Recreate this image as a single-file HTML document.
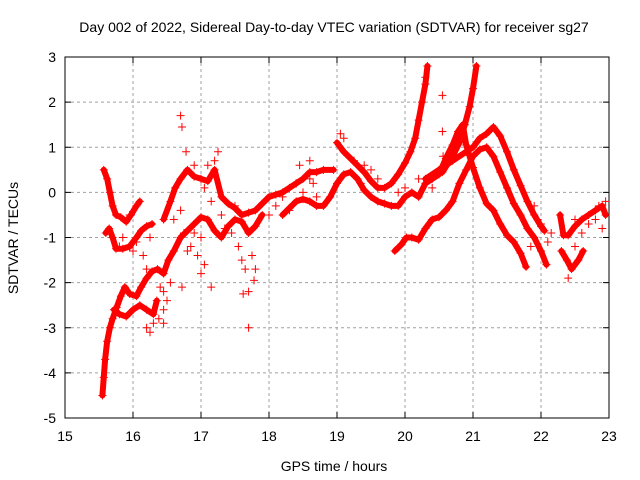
<!DOCTYPE html>
<html><head><meta charset="utf-8"><style>
body{margin:0;background:#fff;}
svg{display:block;font-family:"Liberation Sans",sans-serif;}
</style></head><body>
<svg id="chart" width="640" height="480" viewBox="0 0 640 480" xmlns="http://www.w3.org/2000/svg">
<rect width="640" height="480" fill="#fff"/>
<text x="334" y="32" font-size="14" text-anchor="middle">Day 002 of 2022, Sidereal Day-to-day VTEC variation (SDTVAR) for receiver sg27</text>
<g id="grid"></g>
<g id="axes"></g>
<g id="marks"></g>
<text x="334" y="471" font-size="14" text-anchor="middle">GPS time / hours</text>
<text x="18" y="238" font-size="14" text-anchor="middle" transform="rotate(-90 18 238)">SDTVAR / TECUs</text>
</svg>
<script>
const xTicks=[15,16,17,18,19,20,21,22,23];
const yTicks=[-5,-4,-3,-2,-1,0,1,2,3];
const traceA=[[15.57,0.5],[15.62,0.3],[15.66,0.0],[15.7,-0.3],[15.75,-0.5],[15.82,-0.55],[15.9,-0.65],[15.97,-0.5],[16.05,-0.3],[16.1,-0.2]];
const traceB=[[15.6,-0.9],[15.65,-0.8],[15.7,-1.0],[15.75,-1.25],[15.85,-1.25],[15.95,-1.2],[16.05,-1.0],[16.12,-0.85],[16.2,-0.75],[16.28,-0.7]];
const traceC=[[15.55,-4.5],[15.57,-4.1],[15.59,-3.7],[15.62,-3.3],[15.66,-3.0],[15.7,-2.8],[15.76,-2.55],[15.82,-2.3],[15.88,-2.1],[15.95,-2.25],[16.05,-2.3],[16.12,-2.1],[16.2,-1.9],[16.28,-1.75],[16.36,-1.7],[16.45,-1.8],[16.52,-1.5],[16.6,-1.3],[16.7,-1.0],[16.8,-0.85],[16.9,-0.7],[17.0,-0.55],[17.1,-0.6],[17.2,-0.85],[17.3,-1.0],[17.4,-0.75],[17.5,-0.6],[17.6,-0.65],[17.7,-0.9],[17.8,-0.75],[17.9,-0.5]];
const traceC2=[[15.72,-2.6],[15.8,-2.7],[15.9,-2.75],[16.0,-2.6],[16.1,-2.5],[16.2,-2.6],[16.3,-2.7],[16.35,-2.4]];
const traceD=[[16.45,-0.6],[16.55,-0.2],[16.62,0.1],[16.7,0.3],[16.8,0.5],[16.9,0.35],[17.0,0.3],[17.1,0.25],[17.2,0.5],[17.3,-0.1],[17.4,-0.25],[17.5,-0.35],[17.6,-0.5],[17.7,-0.45],[17.8,-0.4],[17.9,-0.25],[18.0,-0.1],[18.1,-0.05],[18.2,0.0],[18.3,0.1],[18.4,0.2],[18.5,0.3],[18.6,0.45],[18.7,0.45],[18.8,0.5],[18.95,0.5]];
const traceE=[[19.0,1.1],[19.1,0.9],[19.2,0.75],[19.3,0.6],[19.4,0.45],[19.5,0.25],[19.6,0.1],[19.7,0.1],[19.8,0.2],[19.9,0.4],[20.0,0.65],[20.08,0.9],[20.15,1.2],[20.2,1.6],[20.25,2.0],[20.3,2.4],[20.33,2.8]];
const traceF=[[18.2,-0.5],[18.3,-0.35],[18.4,-0.2],[18.5,-0.15],[18.6,-0.2],[18.7,-0.3],[18.8,-0.3],[18.9,-0.1],[19.0,0.2],[19.1,0.4],[19.2,0.45],[19.3,0.3],[19.4,0.05],[19.5,-0.1],[19.6,-0.2],[19.7,-0.25],[19.8,-0.3],[19.9,-0.3],[20.0,-0.1],[20.1,0.0],[20.2,-0.1],[20.3,0.2],[20.4,0.3],[20.5,0.4],[20.6,0.75],[20.7,1.05],[20.78,1.35],[20.85,1.5],[20.9,1.05],[21.0,0.55],[21.1,0.1],[21.2,-0.25],[21.3,-0.4],[21.4,-0.7],[21.5,-0.95],[21.6,-1.1],[21.7,-1.35],[21.78,-1.65]];
const traceG=[[19.85,-1.3],[19.95,-1.15],[20.02,-1.0],[20.1,-1.0],[20.2,-1.05],[20.3,-0.8],[20.4,-0.6],[20.5,-0.55],[20.6,-0.4],[20.7,-0.2],[20.8,0.2],[20.9,0.5],[21.0,0.8],[21.1,0.95],[21.2,1.0],[21.3,0.8],[21.4,0.45],[21.5,0.1],[21.6,-0.25],[21.7,-0.5],[21.8,-0.8],[21.9,-1.0],[22.0,-1.3],[22.08,-1.6]];
const traceH=[[20.3,0.3],[20.5,0.5],[20.7,0.7],[20.9,0.9],[21.0,1.0],[21.1,1.2],[21.2,1.3],[21.3,1.45],[21.4,1.25],[21.5,0.9],[21.6,0.5],[21.7,0.15],[21.8,-0.2],[21.9,-0.5],[22.0,-0.75],[22.05,-0.85]];
const traceI=[[20.55,0.45],[20.7,0.8],[20.8,1.1],[20.88,1.5],[20.95,1.9],[21.0,2.3],[21.05,2.8]];
const traceJ=[[22.28,-0.5],[22.33,-0.95],[22.4,-0.95],[22.5,-0.75],[22.6,-0.6],[22.7,-0.5],[22.8,-0.4],[22.9,-0.3],[22.95,-0.5]];
const traceK=[[22.3,-1.3],[22.38,-1.5],[22.45,-1.7],[22.55,-1.5],[22.62,-1.3]];
const outliers=[[16.7,1.7],[16.72,1.45],[16.78,0.9],[17.25,0.9],[17.7,-3.0],[17.7,-2.2],[17.62,-2.25],[17.78,-1.95],[16.45,-2.6],[16.72,-2.1],[16.25,-3.1],[20.3,2.55],[20.55,2.15],[20.55,1.35],[20.56,0.8],[22.5,-0.6],[22.1,-1.1]];
const scatter=[[16.9,-0.9],[17.0,-1.0],[16.85,-1.2],[16.95,-1.4],[17.05,-1.6],[17.0,-1.8],[17.15,-2.1],[16.6,-0.6],[16.7,-0.4],[16.75,-0.9],[16.8,-1.3],[17.3,-0.5],[17.35,-0.8],[17.45,-0.9],[17.55,-1.2],[17.6,-1.5],[17.65,-1.7],[17.75,-1.4],[17.8,-1.7],[17.5,-0.3],[17.1,0.6],[17.2,0.7],[16.9,0.6],[17.05,0.1],[17.15,-0.2],[16.4,-2.1],[16.45,-2.2],[16.5,-2.4],[16.55,-2.0],[16.38,-2.8],[16.3,-2.9],[16.2,-3.0],[16.45,-2.9],[18.0,-0.5],[18.1,-0.3],[18.2,-0.1],[18.3,-0.4],[18.4,0.2],[18.5,0.0],[18.6,0.3],[18.7,-0.1],[18.45,0.6],[18.6,0.7],[18.65,0.2],[19.05,1.3],[19.1,1.2],[20.0,0.1],[19.9,0.0],[20.2,0.3],[20.4,0.1],[19.6,0.3],[19.5,0.5],[19.4,0.6],[19.25,0.7],[19.35,0.2],[16.05,-1.1],[16.0,-1.3],[16.15,-1.4],[16.25,-1.0],[16.2,-1.7],[15.95,-0.5],[15.85,-1.0],[15.8,-1.2],[22.15,-0.9],[22.0,-0.7],[22.5,-1.2],[22.6,-0.9],[22.7,-0.7],[22.8,-0.6],[22.9,-0.8],[22.95,-0.2],[22.85,-0.3],[22.4,-1.9],[21.9,-0.3],[21.95,-0.6],[21.85,-1.2]];
const series=[traceA,traceB,traceC,traceC2,traceD,traceE,traceF,traceG,traceH,traceI,traceJ,traceK];
const L=65,R=609,T=57,B=418;
const xs=v=>L+(v-15)/(23-15)*(R-L);
const ys=v=>B-(v+5)/(3+5)*(B-T);
const NS="http://www.w3.org/2000/svg";
function mk(tag,attrs,parent){const e=document.createElementNS(NS,tag);for(const k in attrs)e.setAttribute(k,attrs[k]);parent.appendChild(e);return e;}
const grid=document.getElementById('grid'),axes=document.getElementById('axes'),marks=document.getElementById('marks');
xTicks.forEach(t=>{const x=xs(t);
 if(t>15&&t<23){const g=mk('line',{x1:x,x2:x,y1:T,y2:B,stroke:'#a0a0a0','stroke-dasharray':'3,3'},grid);}
 mk('line',{x1:x,x2:x,y1:B,y2:B-6,stroke:'#000'},axes);mk('line',{x1:x,x2:x,y1:T,y2:T+6,stroke:'#000'},axes);
 const tx=mk('text',{x:x,y:B+23,'font-size':14,'text-anchor':'middle'},axes);tx.textContent=t;
 });
yTicks.forEach(t=>{const y=ys(t);
 if(t>-5&&t<3){const g=mk('line',{x1:L,x2:R,y1:y,y2:y,stroke:'#a0a0a0','stroke-dasharray':'3,3'},grid);}
 mk('line',{x1:L,x2:L+6,y1:y,y2:y,stroke:'#000'},axes);mk('line',{x1:R,x2:R-6,y1:y,y2:y,stroke:'#000'},axes);
 const tx=mk('text',{x:L-9,y:y+5,'font-size':14,'text-anchor':'end'},axes);tx.textContent=t;
 });
const fr=mk('rect',{x:L,y:T,width:R-L,height:B-T,fill:'none',stroke:'#000'},axes);

function plus(p,parent){const x=xs(p[0]),y=ys(p[1]);
 const m=mk('path',{d:`M${x-4} ${y}h8M${x} ${y-4}v8`,stroke:'#f00','stroke-width':1},parent);
 }
series.forEach(s=>{
 const pl=mk('polyline',{points:s.map(p=>xs(p[0])+','+ys(p[1])).join(' '),fill:'none',stroke:'#f00','stroke-width':6,'stroke-linejoin':'round','stroke-linecap':'round'},marks);
 
 s.forEach(p=>plus(p,marks));});
outliers.forEach(p=>plus(p,marks));
scatter.forEach(p=>plus(p,marks));
</script>
</body></html>
